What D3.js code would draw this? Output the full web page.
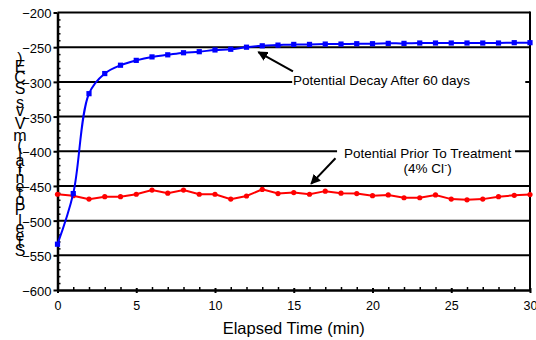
<!DOCTYPE html>
<html>
<head>
<meta charset="utf-8">
<script src="https://cdn.jsdelivr.net/npm/d3@7"></script>
<style>
  body { margin: 0; background: #fff; }
  svg text { font-family: "Liberation Sans", Arial, sans-serif; fill: #000; }
</style>
</head>
<body>
<div id="chart"></div>
<script>
// elapsed time (min)
const minutes = [0, 1, 2, 3, 4, 5, 6, 7, 8, 9, 10, 11, 12, 13, 14, 15, 16, 17, 18, 19, 20,
  21, 22, 23, 24, 25, 26, 27, 28, 29, 30];

// potential after 60 days (mV)
const decayValues = [-534, -461, -317, -288, -276, -269, -264, -261, -258, -256.5, -254, -253, -250,
  -248, -247, -246, -246, -245.5, -245.5, -245, -245, -244.5, -244.5, -244, -244, -244, -244,
  -244, -244, -243.5, -243.5];

// potential prior to treatment (mV)
const priorValues = [-462, -464, -469, -465.5, -465.5, -462, -456, -460.5, -456, -462, -462, -469,
  -464.5, -455, -461, -459.5, -462, -457.5, -460.5, -461, -464, -463, -467, -467, -463, -469,
  -470, -469, -465.5, -463.5, -462.5];

const xTicks = [0, 5, 10, 15, 20, 25, 30];
const xMinorTicks = [1, 2, 3, 4, 6, 7, 8, 9, 11, 12, 13, 14, 16, 17, 18, 19, 21, 22, 23, 24, 26, 27, 28, 29];
const yTicks = [-600, -550, -500, -450, -400, -350, -300, -250, -200];
const yMinorTicks = [-590, -580, -570, -560, -540, -530, -520, -510, -490, -480, -470, -460,
  -440, -430, -420, -410, -390, -380, -370, -360, -340, -330, -320, -310, -290, -280, -270, -260,
  -240, -230, -220, -210];

const xTitle = 'Elapsed Time (min)';
const yTitle = 'Steel Potential (mV vs SCE)';
const decayLabel = 'Potential Decay After 60 days';
const priorLabel = 'Potential Prior To Treatment';

const width = 536, height = 340;

const svg = d3.select('#chart').append('svg')
  .attr('width', width)
  .attr('height', height);

const x = d3.scaleLinear().domain([0, 30]).range([57.5, 530]);
const y = d3.scaleLinear().domain([-600, -200]).range([290, 12.5]);

// horizontal grid lines
svg.append('g')
  .selectAll('line')
  .data(yTicks.filter(d => d > -600))
  .join('line')
  .attr('x1', x(0)).attr('x2', x(30))
  .attr('y1', d => y(d)).attr('y2', d => y(d))
  .attr('stroke', '#000')
  .attr('stroke-width', 2);

// right frame
svg.append('line')
  .attr('x1', x(30)).attr('x2', x(30))
  .attr('y1', y(-200) - 1).attr('y2', y(-600))
  .attr('stroke', '#000')
  .attr('stroke-width', 2);

// annotation boxes, they hide the grid line behind the labels
svg.append('rect')
  .attr('x', x(14.9)).attr('y', y(-292))
  .attr('width', x(29.7) - x(14.9)).attr('height', y(-315) - y(-292))
  .attr('fill', '#fff');
svg.append('rect')
  .attr('x', x(17.75)).attr('y', y(-397))
  .attr('width', x(29.05) - x(17.75)).attr('height', y(-406) - y(-397))
  .attr('fill', '#fff');

// axes
const yAxis = svg.append('g')
  .attr('transform', `translate(${x(0)},0)`)
  .call(d3.axisLeft(y).tickValues(yTicks).tickSize(4).tickSizeOuter(0).tickPadding(2));
yAxis.select('.domain').attr('stroke-width', 2.5);
yAxis.selectAll('.tick line').attr('stroke-width', 2);
yAxis.selectAll('text')
  .attr('font-size', 13)
  .attr('dy', '0.42em')
  .style('font-family', '"Liberation Sans", Arial, sans-serif');

svg.append('g')
  .attr('transform', `translate(${x(0)},0)`)
  .call(d3.axisRight(y).tickValues(yMinorTicks).tickSize(3).tickFormat(''))
  .call(g => g.select('.domain').remove())
  .selectAll('line').attr('stroke-width', 1.5);

const xAxis = svg.append('g')
  .attr('transform', `translate(0,${y(-600)})`)
  .call(d3.axisBottom(x).tickValues(xTicks).tickSize(3).tickSizeOuter(0).tickPadding(8));
xAxis.select('.domain').attr('stroke-width', 2.5);
xAxis.selectAll('.tick line').attr('stroke-width', 2).attr('y1', -2);
xAxis.selectAll('text')
  .attr('font-size', 12.5)
  .style('font-family', '"Liberation Sans", Arial, sans-serif');

svg.append('g')
  .attr('transform', `translate(0,${y(-600)})`)
  .call(d3.axisTop(x).tickValues(xMinorTicks).tickSize(3).tickFormat(''))
  .call(g => g.select('.domain').remove())
  .selectAll('line').attr('stroke-width', 1.5);

// axis titles
svg.append('text')
  .attr('x', (x(0) + x(30)) / 2)
  .attr('y', 334)
  .attr('text-anchor', 'middle')
  .attr('font-size', 16.5)
  .text(xTitle);

// y title: laid out bottom to top, each glyph kept upright
const ctx = document.createElement('canvas').getContext('2d');
ctx.font = '16px "Liberation Sans"';
let pos = 256;
const yTitleG = svg.append('g');
yTitle.split('').forEach(ch => {
  const w = ctx.measureText(ch).width;
  const c = pos - w / 2;
  pos -= w;
  if (ch === ' ') return;
  yTitleG.append('text')
    .attr('x', 20)
    .attr('y', c + 5)
    .attr('text-anchor', 'middle')
    .attr('font-size', 16)
    .text(ch);
});

// series
const priorLine = d3.line()
  .x((d, i) => x(minutes[i]))
  .y(d => y(d));

svg.append('path')
  .datum(priorValues)
  .attr('fill', 'none')
  .attr('stroke', '#ff0000')
  .attr('stroke-width', 2)
  .attr('d', priorLine);

svg.append('g')
  .selectAll('circle')
  .data(priorValues)
  .join('circle')
  .attr('cx', (d, i) => x(minutes[i]))
  .attr('cy', d => y(d))
  .attr('r', 2.6)
  .attr('fill', '#ff0000');

const decayLine = d3.line()
  .curve(d3.curveCatmullRom.alpha(0.5))
  .x((d, i) => x(minutes[i]))
  .y(d => y(d));

svg.append('path')
  .datum(decayValues)
  .attr('fill', 'none')
  .attr('stroke', '#0000ff')
  .attr('stroke-width', 2)
  .attr('d', decayLine);

svg.append('g')
  .selectAll('rect')
  .data(decayValues)
  .join('rect')
  .attr('x', (d, i) => x(minutes[i]) - 2.6)
  .attr('y', d => y(d) - 2.6)
  .attr('width', 5.2)
  .attr('height', 5.2)
  .attr('fill', '#0000ff');

// annotations
svg.append('defs').append('marker')
  .attr('id', 'arrow')
  .attr('viewBox', '0 0 10 10')
  .attr('refX', 9).attr('refY', 5)
  .attr('markerWidth', 5).attr('markerHeight', 5)
  .attr('markerUnits', 'strokeWidth')
  .attr('orient', 'auto')
  .append('path')
  .attr('d', 'M0,0 L10,5 L0,10 z')
  .attr('fill', '#000');

svg.append('line')
  .attr('x1', x(14.95)).attr('y1', y(-285))
  .attr('x2', x(12.75)).attr('y2', y(-257))
  .attr('stroke', '#000')
  .attr('stroke-width', 2)
  .attr('marker-end', 'url(#arrow)');

svg.append('text')
  .attr('x', x(14.95))
  .attr('y', y(-304.5))
  .attr('font-size', 13.5)
  .text(decayLabel);

svg.append('line')
  .attr('x1', x(17.65)).attr('y1', y(-410))
  .attr('x2', x(16.1)).attr('y2', y(-447))
  .attr('stroke', '#000')
  .attr('stroke-width', 2)
  .attr('marker-end', 'url(#arrow)');

svg.append('text')
  .attr('x', x(23.5))
  .attr('y', y(-410))
  .attr('text-anchor', 'middle')
  .attr('font-size', 13.5)
  .text(priorLabel);

const clText = svg.append('text')
  .attr('x', x(23.5))
  .attr('y', y(-432))
  .attr('text-anchor', 'middle')
  .attr('font-size', 13.5);
clText.append('tspan').text('(4% Cl');
clText.append('tspan').attr('dy', -5).attr('font-size', 9).text('-');
clText.append('tspan').attr('dy', 5).text(')');
</script>
</body>
</html>
